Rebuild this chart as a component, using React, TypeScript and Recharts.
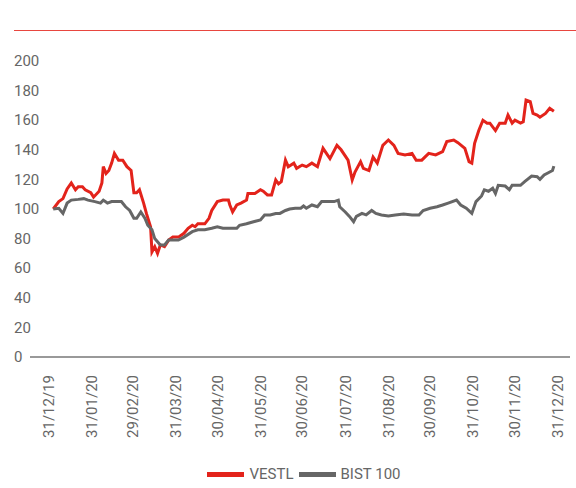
import { LineChart, Line, XAxis, YAxis, Legend } from 'recharts';

// day index counted from 31/12/19
const monthEndDays = [0, 31, 60, 91, 121, 152, 182, 213, 244, 274, 305, 335, 366];
const monthEndLabels = [
  '31/12/19', '31/01/20', '29/02/20', '31/03/20', '30/04/20', '31/05/20', '30/06/20',
  '31/07/20', '31/08/20', '30/09/20', '31/10/20', '30/11/20', '31/12/20',
];
const yTicks = [0, 20, 40, 60, 80, 100, 120, 140, 160, 180, 200];

const vestlDays = [
  3, 7, 10, 13, 16, 19, 21, 24, 26, 30, 32, 36, 38, 39, 41, 43, 45, 47, 50, 53, 56, 59, 61, 63,
  65, 68, 70, 73, 74, 76, 78, 80, 83, 86, 89, 93, 97, 100, 103, 105, 107, 112, 115, 117, 121,
  125, 129, 130, 132, 135, 138, 142, 143, 148, 152, 154, 157, 160, 163, 165, 167, 170, 172, 176,
  178, 182, 185, 189, 193, 197, 202, 207, 210, 215, 218, 220, 224, 226, 230, 233, 236, 240, 244,
  248, 251, 256, 261, 264, 268, 273, 278, 283, 286, 291, 294, 299, 302, 304, 306, 309, 312, 315,
  317, 321, 324, 328, 330, 333, 335, 339, 341, 343, 346, 348, 351, 353, 357, 360, 363,
];
const vestlValues = [
  100, 105, 107, 113.5, 117.6, 113, 115, 115, 113, 111, 108, 112, 117.6, 128.6, 124, 126, 131,
  137.6, 133, 133, 128.6, 126, 111, 111, 113, 104, 97, 88, 71, 74.5, 70, 75.7, 74.5, 79, 81, 81,
  83.6, 87, 89, 88, 90, 90, 93.7, 99, 105, 106, 106, 102.7, 98, 102.7, 104, 106, 110.5, 110.5,
  113, 112, 109.5, 109.5, 119.6, 117, 118.5, 133, 128.6, 131, 127.5, 129.7, 128.6, 131, 128.6,
  141, 134, 143, 140, 133, 119.6, 125, 132, 127.5, 126, 135, 131, 143, 146.6, 143, 137.6, 136.5,
  137.6, 133, 133, 137.6, 136.5, 138.7, 145.5, 146.6, 144.8, 141, 132, 131, 144.4, 153, 160, 158,
  158, 153, 158, 158, 163.5, 158, 160, 158, 159, 173.6, 172.5, 164.6, 163.5, 162, 164.6, 168, 166,
];

const bistDays = [
  3, 7, 10, 13, 16, 21, 25, 28, 33, 37, 39, 42, 45, 48, 52, 55, 58, 61, 63, 66, 69, 71, 74, 76,
  80, 83, 86, 89, 93, 97, 103, 107, 112, 117, 121, 125, 131, 135, 137, 142, 147, 152, 155, 159,
  163, 166, 170, 173, 177, 181, 183, 185, 189, 193, 196, 201, 205, 208, 209, 213, 216, 219, 221,
  225, 228, 232, 235, 239, 244, 249, 255, 261, 266, 269, 274, 279, 283, 287, 293, 296, 300, 304,
  307, 311, 313, 316, 319, 321, 323, 328, 331, 333, 339, 342, 347, 351, 353, 356, 359, 362, 363,
];
const bistValues = [
  100, 100.5, 97, 104, 106, 106.5, 107, 106, 105, 104, 106, 104, 105, 105, 105, 101.5, 99, 93.7,
  93.7, 98, 93.7, 89, 86, 80, 75.7, 75.7, 79, 79, 79, 81, 84.7, 86, 86, 87, 88, 87, 87, 87, 89,
  90, 91.4, 92.6, 96, 96, 97, 97, 99, 100, 100.5, 100.5, 102, 100.5, 102.7, 101.5, 105, 105, 105,
  106, 101.5, 98, 95, 91.4, 95, 97, 96, 99, 97, 96, 95.3, 96, 96.6, 96, 96, 99, 100.5, 101.5,
  102.7, 104, 106, 102.7, 100.5, 97, 105, 108.8, 113, 112, 114, 110.5, 116, 115.5, 113, 116, 116,
  118.5, 122.3, 121.8, 120, 123, 124.5, 126, 129,
];

const vestlData = vestlDays.map((day, i) => ({ day, value: vestlValues[i] }));
const bistData = bistDays.map((day, i) => ({ day, value: bistValues[i] }));

const RED = '#e3231b';
const GREY = '#666666';
const TEXT = '#666666';
const FONT = 'Roboto, sans-serif';

const YTick = (props: any) => {
  const { y, payload } = props;
  return (
    <text x={14} y={y} dy="0.35em" textAnchor="start" fill={TEXT} fontSize={15} fontFamily={FONT}>
      {payload.value}
    </text>
  );
};

const XTick = (props: any) => {
  const { x, payload } = props;
  const label = monthEndLabels[monthEndDays.indexOf(payload.value)];
  return (
    <text
      transform={`translate(${x},375) rotate(-90)`}
      dy="0.35em"
      textAnchor="end"
      fill={TEXT}
      fontSize={15}
      fontFamily={FONT}
    >
      {label}
    </text>
  );
};

const LegendContent = () => (
  <div
    style={{
      display: 'flex',
      justifyContent: 'center',
      alignItems: 'center',
      height: 20,
      paddingLeft: 38,
      fontFamily: FONT,
      fontSize: 15,
      color: TEXT,
    }}
  >
    <span style={{ width: 37, height: 5, background: RED, marginRight: 5 }} />
    <span style={{ marginRight: 5 }}>VESTL</span>
    <span style={{ width: 37, height: 5, background: GREY, marginRight: 5 }} />
    <span>BIST 100</span>
  </div>
);

export default function App() {
  return (
    <div style={{ position: 'absolute', left: 0, top: 0, width: 576, height: 488 }}>
      <div
        style={{ position: 'absolute', left: 14, top: 30, width: 562, height: 1, background: '#e8463f' }}
      />
      <LineChart width={576} height={488} margin={{ top: 61, right: 6, left: 0, bottom: 4 }}>
        <XAxis
          dataKey="day"
          type="number"
          domain={[-13.7, 374.6]}
          ticks={monthEndDays}
          interval={0}
          tick={<XTick />}
          tickLine={false}
          axisLine={{ stroke: '#999999', strokeWidth: 2 }}
          height={107}
        />
        <YAxis
          type="number"
          domain={[0, 200]}
          ticks={yTicks}
          interval={0}
          width={30}
          tick={<YTick />}
          tickLine={false}
          axisLine={false}
        />
        <Legend verticalAlign="bottom" content={<LegendContent />} />
        <Line
          data={vestlData}
          dataKey="value"
          name="VESTL"
          stroke={RED}
          strokeWidth={3}
          dot={false}
          isAnimationActive={false}
        />
        <Line
          data={bistData}
          dataKey="value"
          name="BIST 100"
          stroke={GREY}
          strokeWidth={3}
          dot={false}
          isAnimationActive={false}
        />
      </LineChart>
    </div>
  );
}
